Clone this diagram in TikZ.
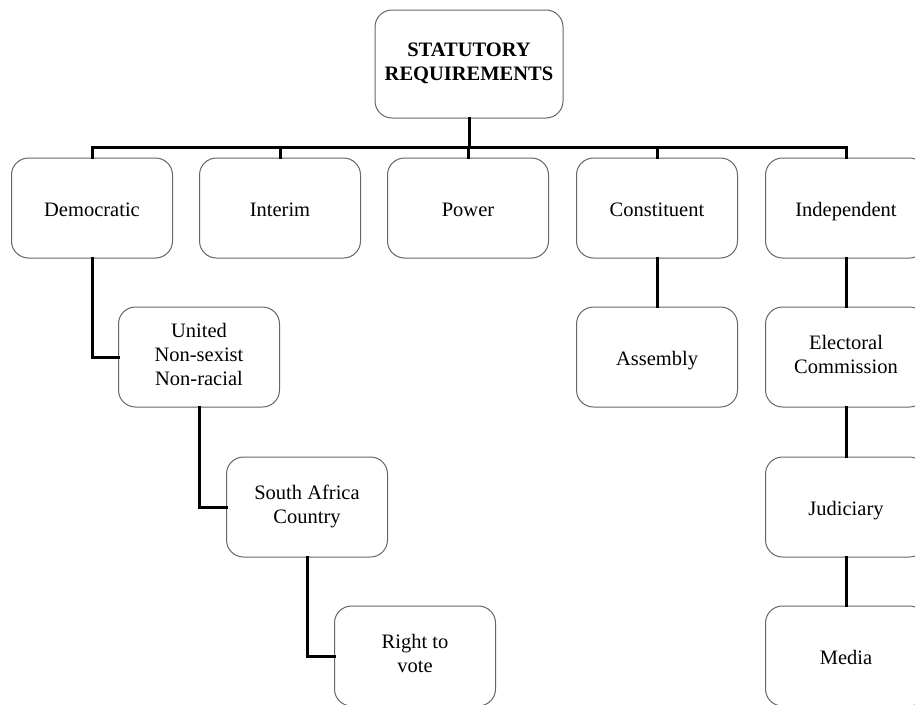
\documentclass[tikz,border=0pt]{standalone}
\usepackage{fontspec}
\setmainfont{Liberation Serif}
\newcommand{\boxstrut}{\rule[-5pt]{0pt}{26pt}}
\begin{document}
\begin{tikzpicture}[x=1pt, y=-1pt, line cap=rect, line join=miter,
    box/.style={draw=black!60, line width=1pt, rounded corners=17pt, fill=white,
      minimum width=161pt, minimum height=100pt, align=center,
      font=\fontsize{20.5}{24}\selectfont,
      execute at begin node=\boxstrut, execute at end node=\boxstrut},
    conn/.style={line width=3pt, black}]
    % Rahmen des Bildes
    \useasboundingbox (0,0) rectangle (915,704);
    \clip (0,0) rectangle (915,704);

    % Kopf
    \node[box, minimum width=188pt, minimum height=108pt, font=\fontsize{20.5}{24}\selectfont\bfseries]
        (top) at (469,64) {STATUTORY\\REQUIREMENTS};

    % erste Reihe
    \node[box] (dem)    at (92,208)  {Democratic};
    \node[box] (interim) at (280,208) {Interim};
    \node[box] (power)  at (468,208) {Power};
    \node[box] (const)  at (657,208) {Constituent};
    \node[box] (indep)  at (846,208) {Independent};

    % linker Zweig
    \node[box] (united) at (199,357) {United\\Non-sexist\\Non-racial};
    \node[box] (sa)     at (307,507) {South Africa\\Country};
    \node[box] (vote)   at (415,656) {Right to\\vote};

    % mittlerer und rechter Zweig
    \node[box] (assembly) at (657,357) {Assembly};
    \node[box] (elect)    at (846,357) {Electoral\\Commission};
    \node[box] (judic)    at (846,507) {Judiciary};
    \node[box] (media)    at (846,656) {Media};

    % Sammelschiene
    \coordinate (busL) at (92,147);
    \coordinate (busR) at (846,147);
    \draw[conn] (busL) -- (busR);
    \draw[conn] (top.south) -- (top.south |- busL);
    \foreach \n in {dem, interim, power, const, indep}
        \draw[conn] (\n.north) -- (\n.north |- busL);

    % Verbindungen nach unten
    \draw[conn] (dem.south) |- (united.west);
    \draw[conn] (united.south) |- (sa.west);
    \draw[conn] (sa.south) |- (vote.west);
    \draw[conn] (const.south) -- (assembly.north);
    \draw[conn] (indep.south) -- (elect.north);
    \draw[conn] (elect.south) -- (judic.north);
    \draw[conn] (judic.south) -- (media.north);
\end{tikzpicture}
\end{document}
